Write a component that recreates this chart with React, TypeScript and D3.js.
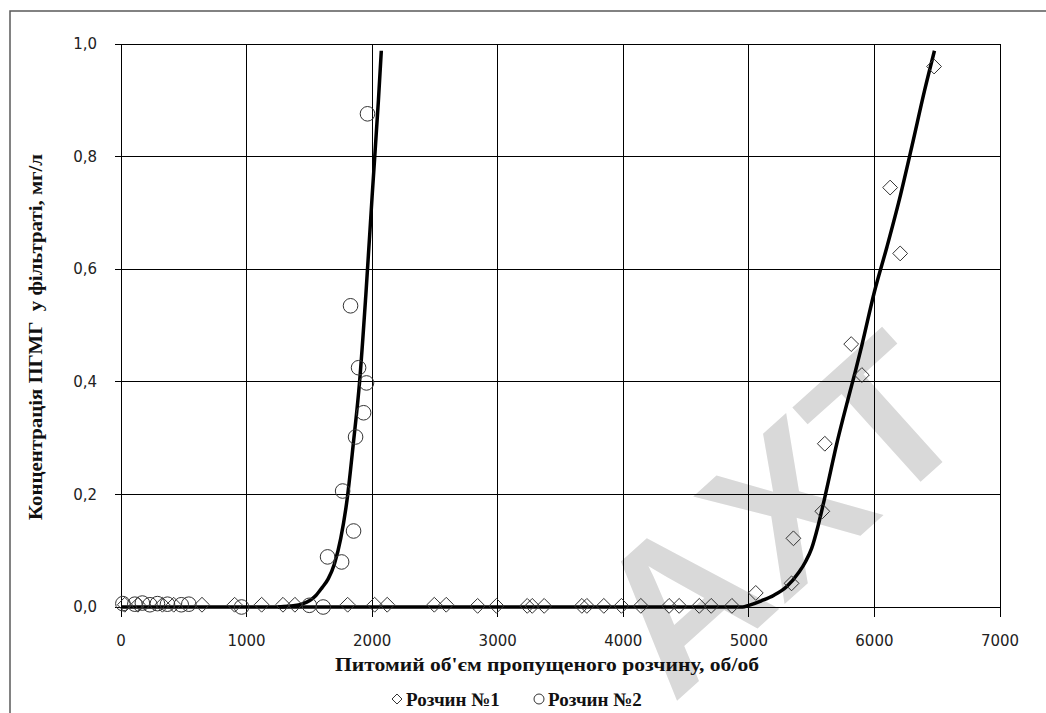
import React, { useEffect, useRef } from 'react';
import * as d3 from 'd3';

// axis ticks
const xTicks = [0, 1000, 2000, 3000, 4000, 5000, 6000, 7000];
const yTicks = [0, 0.2, 0.4, 0.6, 0.8, 1.0];
const yTickLabels = ['0,0', '0,2', '0,4', '0,6', '0,8', '1,0'];

// Розчин №1 (diamonds)
const solutionOneX = [30, 135, 330, 420, 645, 905, 1120, 1290, 1385, 1805, 2020, 2120, 2495, 2590, 2840, 2990, 3235, 3275, 3370, 3670, 3710, 3845, 3985, 4140, 4365, 4445, 4605, 4700, 4865,
    5055, 5340, 5355, 5585, 5605, 5815, 5900, 6125, 6205, 6475];
const solutionOneY = [0.004, 0.004, 0.004, 0.004, 0.004, 0.004, 0.004, 0.004, 0.004, 0.004, 0.004, 0.004, 0.004, 0.004, 0.002, 0.002, 0.002, 0.002, 0.002, 0.002, 0.002, 0.002, 0.002, 0.002, 0.002, 0.002, 0.002, 0.002, 0.002,
    0.025, 0.042, 0.122, 0.17, 0.29, 0.467, 0.412, 0.745, 0.628, 0.96];

// Розчин №2 (circles)
const solutionTwoX = [15, 110, 170, 230, 290, 370, 480, 540, 960, 1500, 1610, 1645, 1757, 1765, 1852, 1868, 1828, 1892, 1932, 1955, 1963];
const solutionTwoY = [0.006, 0.005, 0.007, 0.004, 0.006, 0.005, 0.004, 0.005, 0.0, 0.003, 0.0, 0.089, 0.08, 0.206, 0.135, 0.302, 0.535, 0.425, 0.345, 0.398, 0.876];

// fitted curves
const fitOneX = [0, 4950, 5000, 5100, 5200, 5300, 5400, 5450, 5500, 5550, 5600, 5650, 5700, 5750, 5800, 5850, 5900, 6000, 6100, 6200, 6300, 6400, 6478];
const fitOneY = [0, 0, 0.003, 0.011, 0.021, 0.036, 0.062, 0.08, 0.104, 0.143, 0.19, 0.24, 0.29, 0.335, 0.378, 0.42, 0.465, 0.56, 0.64, 0.725, 0.82, 0.918, 0.988];
const fitTwoX = [1250, 1400, 1450, 1500, 1550, 1600, 1650, 1700, 1750, 1800, 1850, 1900, 1950, 2000, 2050, 2073];
const fitTwoY = [0, 0.003, 0.006, 0.011, 0.02, 0.034, 0.05, 0.077, 0.122, 0.19, 0.29, 0.4, 0.555, 0.73, 0.9, 0.988];

const xTitle = "Питомий об'єм пропущеного розчину, об/об";
const yTitle = 'Концентрація ПГМГ  у фільтраті, мг/л';
const legendLabels = ['Розчин №1', 'Розчин №2'];
const watermark = 'AXT';

const diamondType = {
    draw(ctx, size) {
        const r = Math.sqrt(size / 2);
        ctx.moveTo(0, -r);
        ctx.lineTo(r, 0);
        ctx.lineTo(0, r);
        ctx.lineTo(-r, 0);
        ctx.closePath();
    }
};

export default function App() {
    const svgRef = useRef(null);

    useEffect(() => {
        const width = 1046, height = 713;
        const svg = d3.select(svgRef.current);
        svg.selectAll('*').remove();

        const x = d3.scaleLinear().domain([0, 7000]).range([121, 1000]);
        const y = d3.scaleLinear().domain([0, 1]).range([607, 44]);

        svg.append('rect').attr('width', width).attr('height', height).attr('fill', '#fff');
        // outer frame (runs off the right and bottom of the picture)
        svg.append('rect')
            .attr('x', 10).attr('y', 11).attr('width', 1100).attr('height', 900)
            .attr('fill', 'none').attr('stroke', '#595959').attr('stroke-width', 1.5);

        // watermark
        svg.append('text')
            .attr('transform', 'translate(978,430) rotate(-42)')
            .attr('text-anchor', 'end')
            .attr('font-family', 'Liberation Sans, Arial, sans-serif')
            .attr('font-weight', 'bold')
            .attr('font-size', 205)
            .attr('fill', '#d9d9d9')
            .text(watermark);

        // gridlines + ticks
        const grid = svg.append('g').attr('stroke', '#000').attr('stroke-width', 1).attr('shape-rendering', 'crispEdges');
        grid.selectAll('.vx').data(xTicks).enter().append('line')
            .attr('x1', d => x(d)).attr('x2', d => x(d))
            .attr('y1', y(1)).attr('y2', y(0) + 10);
        grid.selectAll('.hy').data(yTicks).enter().append('line')
            .attr('x1', x(0) - 6).attr('x2', x(7000))
            .attr('y1', d => y(d)).attr('y2', d => y(d));

        // tick labels
        svg.append('g').selectAll('text').data(xTicks).enter().append('text')
            .attr('x', d => x(d)).attr('y', 641).attr('dy', '0.35em')
            .attr('text-anchor', 'middle')
            .attr('font-family', 'DejaVu Sans, Verdana, sans-serif').attr('font-size', 15)
            .attr('fill', '#222')
            .text(d => d);
        svg.append('g').selectAll('text').data(yTicks).enter().append('text')
            .attr('x', 97).attr('y', d => y(d)).attr('dy', '0.35em')
            .attr('text-anchor', 'end')
            .attr('font-family', 'DejaVu Sans, Verdana, sans-serif').attr('font-size', 15)
            .attr('fill', '#222')
            .text((d, i) => yTickLabels[i]);

        // fitted curves
        const line = d3.line().x(d => x(d[0])).y(d => y(d[1])).curve(d3.curveMonotoneX);
        [[fitOneX, fitOneY], [fitTwoX, fitTwoY]].forEach(([xs, ys]) => {
            svg.append('path')
                .attr('d', line(xs.map((v, i) => [v, ys[i]])))
                .attr('fill', 'none').attr('stroke', '#000').attr('stroke-width', 3.5)
                .attr('stroke-linejoin', 'round');
        });

        // markers
        const diamond = d3.symbol().type(diamondType).size(110);
        const circle = d3.symbol().type(d3.symbolCircle).size(Math.PI * 7.3 * 7.3);
        svg.append('g').selectAll('path').data(solutionOneX).enter().append('path')
            .attr('d', diamond)
            .attr('transform', (d, i) => `translate(${x(d)},${y(solutionOneY[i])})`)
            .attr('fill', 'none').attr('stroke', '#333').attr('stroke-width', 1);
        svg.append('g').selectAll('path').data(solutionTwoX).enter().append('path')
            .attr('d', circle)
            .attr('transform', (d, i) => `translate(${x(d)},${y(solutionTwoY[i])})`)
            .attr('fill', 'none').attr('stroke', '#333').attr('stroke-width', 1);

        // axis titles
        const serif = 'Liberation Serif, Times New Roman, serif';
        svg.append('text')
            .attr('x', 547).attr('y', 664).attr('dy', '0.35em')
            .attr('text-anchor', 'middle')
            .attr('font-family', serif).attr('font-weight', 'bold').attr('font-size', 19)
            .attr('fill', '#111')
            .attr('textLength', 424).attr('lengthAdjust', 'spacingAndGlyphs')
            .text(xTitle);
        svg.append('text')
            .attr('transform', 'translate(35,337) rotate(-90)')
            .attr('dy', '0.35em')
            .attr('text-anchor', 'middle')
            .attr('font-family', serif).attr('font-weight', 'bold').attr('font-size', 19)
            .attr('fill', '#111')
            .style('white-space', 'pre')
            .attr('textLength', 366).attr('lengthAdjust', 'spacingAndGlyphs')
            .text(yTitle);

        // legend
        const legendY = 699;
        const legendItems = [
            { sym: d3.symbol().type(diamondType).size(50), mx: 397, tx: 406, label: legendLabels[0] },
            { sym: d3.symbol().type(d3.symbolCircle).size(Math.PI * 25), mx: 539, tx: 548, label: legendLabels[1] },
        ];
        const lg = svg.append('g');
        legendItems.forEach(it => {
            lg.append('path').attr('d', it.sym)
                .attr('transform', `translate(${it.mx},${legendY})`)
                .attr('fill', 'none').attr('stroke', '#333').attr('stroke-width', 1);
            lg.append('text')
                .attr('x', it.tx).attr('y', legendY).attr('dy', '0.35em')
                .attr('font-family', serif).attr('font-weight', 'bold').attr('font-size', 19)
                .attr('fill', '#111')
                .text(it.label);
        });
    }, []);

    return (
        <svg ref={svgRef} width={1046} height={713}
            style={{ position: 'absolute', left: 0, top: 0, display: 'block' }} />
    );
}
